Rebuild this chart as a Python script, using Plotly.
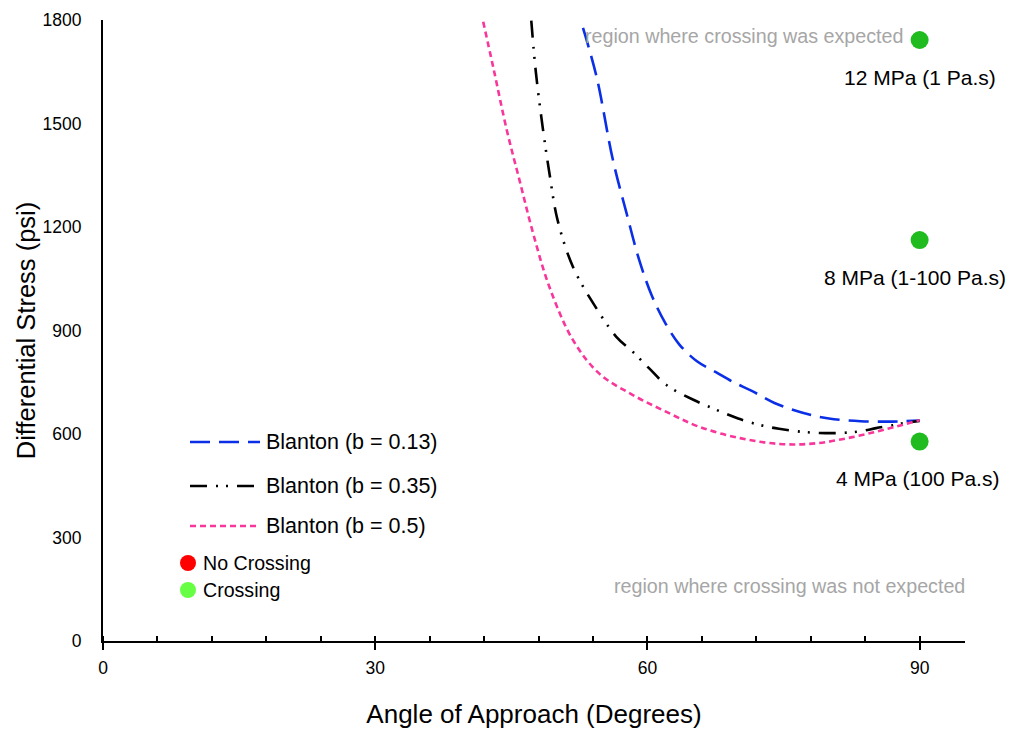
import plotly.graph_objects as go

# ---------------- data ----------------
angle_b013 = [52.9, 54.4, 56.2, 57.7, 59.1, 60.5, 62.0, 63.5, 65.5, 67.5, 69.5, 71.5, 74.0, 77.0, 80.0, 83.5, 87.0, 90.0]
stress_b013 = [1777, 1635, 1394, 1240, 1104, 1000, 920, 860, 810, 780, 750, 725, 690, 662, 645, 637, 636, 639]

angle_b035 = [47.2, 47.7, 48.5, 49.2, 50.1, 51.8, 54.0, 56.6, 58.4, 60.2, 62.1, 65.0, 67.6, 70.0, 72.4, 74.5, 76.8, 79.0, 81.2, 83.5, 85.2, 87.0, 88.1, 90.0]
stress_b035 = [1798, 1650, 1481, 1356, 1220, 1084, 980, 881, 838, 790, 742, 700, 670, 645, 626, 615, 607, 603, 603, 608, 617, 625, 631, 638]

angle_b05 = [41.9, 43.0, 44.5, 45.9, 47.4, 49.2, 51.8, 54.7, 58.4, 62.1, 65.7, 70.2, 74.6, 78.6, 82.6, 86.3, 90.0]
stress_b05 = [1795, 1664, 1481, 1336, 1182, 1026, 872, 775, 713, 664, 621, 588, 571, 573, 591, 614, 640]

crossing_angle = [90, 90, 90]
crossing_stress = [1742, 1162, 578]
crossing_labels = ["12 MPa (1 Pa.s)", "8 MPa (1-100 Pa.s)", "4 MPa (100 Pa.s)"]
label_xshift = [0, -5, -2]

legend_names = ["Blanton (b = 0.13)", "Blanton (b = 0.35)", "Blanton (b = 0.5)"]
x_ticks = [0, 30, 60, 90]
y_ticks = [0, 300, 600, 900, 1200, 1500, 1800]

# ---------------- styles ----------------
BLUE = "#0a2fe6"
BLACK = "#000000"
PINK = "#f7379a"
GREEN = "#1fbb1f"
LEG_GREEN = "#66ff44"
RED = "#ff0000"
GRAY = "#a6a6a6"
REG = "Liberation Sans, Arial, sans-serif"

dash_blue = "20px,9px"
dash_black = "17px,9px,2px,8px,2px,9px"
dash_pink = "6px,4px"

fig = go.Figure()
fig.add_trace(go.Scatter(x=angle_b013, y=stress_b013, mode="lines", name=legend_names[0],
                         line=dict(color=BLUE, width=2.6, dash=dash_blue, shape="spline"),
                         showlegend=False))
fig.add_trace(go.Scatter(x=angle_b035, y=stress_b035, mode="lines", name=legend_names[1],
                         line=dict(color=BLACK, width=2.6, dash=dash_black, shape="spline"),
                         showlegend=False))
fig.add_trace(go.Scatter(x=angle_b05, y=stress_b05, mode="lines", name=legend_names[2],
                         line=dict(color=PINK, width=2.6, dash=dash_pink, shape="spline"),
                         showlegend=False))
fig.add_trace(go.Scatter(x=crossing_angle, y=crossing_stress, mode="markers", name="Crossing",
                         marker=dict(color=GREEN, size=18), showlegend=False, cliponaxis=False))

annotations = []
for xa, ya, t, xs in zip(crossing_angle, crossing_stress, crossing_labels, label_xshift):
    annotations.append(dict(x=xa, y=ya, xref="x", yref="y", text=t, showarrow=False,
                            xshift=xs, yshift=-37, font=dict(family=REG, size=21, color="black")))

annotations.append(dict(x=0.930, y=0.974, xref="paper", yref="paper", xanchor="right", yanchor="middle",
                        text="region where crossing was expected", showarrow=False,
                        font=dict(family=REG, size=19.7, color=GRAY)))
annotations.append(dict(x=1.002, y=0.0886, xref="paper", yref="paper", xanchor="right", yanchor="middle",
                        text="region where crossing was not expected", showarrow=False,
                        font=dict(family=REG, size=19.7, color=GRAY)))

# manual legend (pixel -> paper helpers)
L, T, W, H = 103, 20, 862, 621
def px(x):
    return (x - L) / W
def py(y):
    return (T + H - y) / H

shapes = []
leg_rows = [(442, BLUE, dash_blue), (486, BLACK, dash_black), (526, PINK, dash_pink)]
for (yy, col, dsh), name in zip(leg_rows, legend_names):
    shapes.append(dict(type="line", xref="paper", yref="paper", x0=px(190), x1=px(260), y0=py(yy), y1=py(yy),
                       line=dict(color=col, width=2.6, dash=dsh)))
    annotations.append(dict(x=px(264), y=py(yy), xref="paper", yref="paper", xanchor="left", yanchor="middle",
                            text=name, showarrow=False, font=dict(family=REG, size=21.5, color="black")))

for yy, col, name in [(563, RED, "No Crossing"), (590, LEG_GREEN, "Crossing")]:
    shapes.append(dict(type="circle", xref="paper", yref="paper", xsizemode="pixel", ysizemode="pixel",
                       xanchor=px(188), yanchor=py(yy), x0=-8, x1=8, y0=-8, y1=8,
                       fillcolor=col, line=dict(width=0)))
    annotations.append(dict(x=px(201), y=py(yy), xref="paper", yref="paper", xanchor="left", yanchor="middle",
                            text=name, showarrow=False, font=dict(family=REG, size=19.6, color="black")))

fig.update_layout(
    width=1017, height=733,
    margin=dict(l=L, r=1017 - L - W, t=T, b=733 - T - H, autoexpand=False),
    paper_bgcolor="white", plot_bgcolor="white",
    showlegend=False,
    annotations=annotations, shapes=shapes,
    xaxis=dict(range=[0, 95], tickvals=x_ticks, showgrid=False, zeroline=False, automargin=False,
               showline=True, linecolor="black", linewidth=2,
               ticks="outside", ticklen=7, tickwidth=1.5, tickcolor="black",
               ticklabelstandoff=3,
               minor=dict(dtick=6, tick0=0, ticks="inside", ticklen=5, tickwidth=1.5, tickcolor="black", showgrid=False),
               tickfont=dict(family=REG, size=17.5, color="black"),
               title=dict(text="Angle of Approach (Degrees)", standoff=28,
                          font=dict(family=REG, size=26, color="black"))),
    yaxis=dict(range=[0, 1800], tickvals=y_ticks, showgrid=False, zeroline=False, automargin=False,
               showline=True, linecolor="black", linewidth=2, ticks="",
               ticklabelstandoff=16,
               tickfont=dict(family=REG, size=17.5, color="black"),
               title=dict(text="Differential Stress (psi)", standoff=0,
                          font=dict(family=REG, size=25.5, color="black"))),
)

fig.write_html("out.html", post_script="document.body.style.margin='0px';",
               config={"displayModeBar": False})
